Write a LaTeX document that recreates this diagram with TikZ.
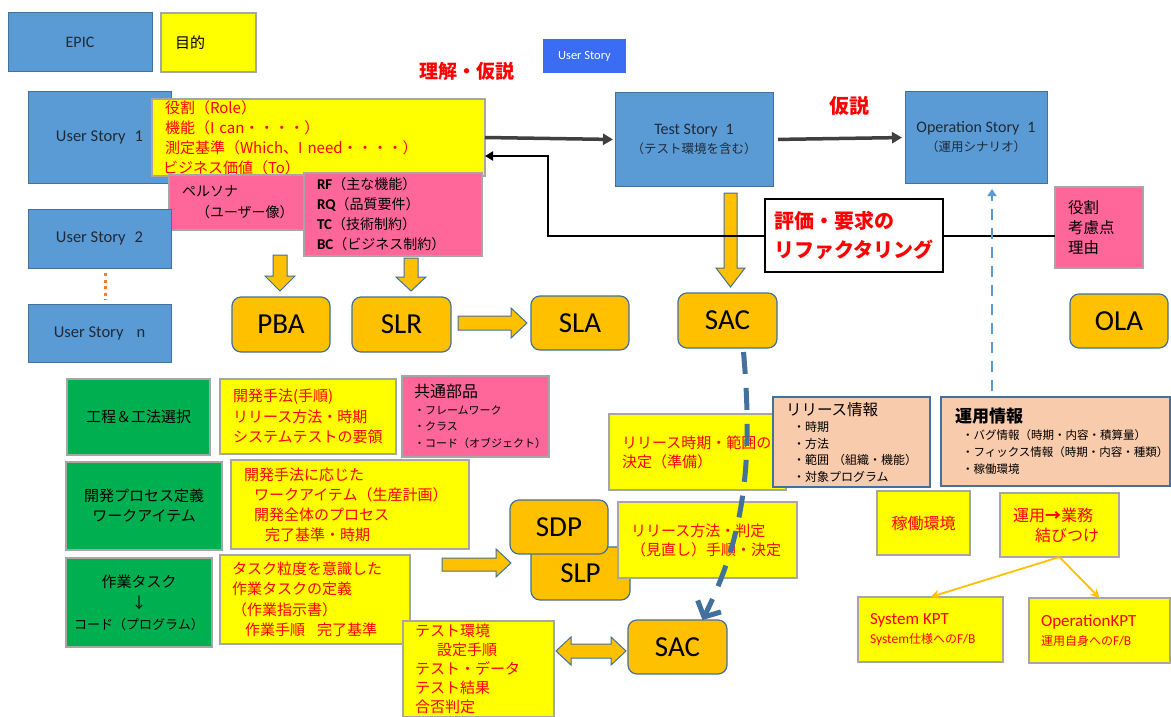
\documentclass[tikz,border=0pt]{standalone}
\usepackage{fontspec}
\setmainfont{Noto Sans CJK JP}
\newfontfamily\lat{Carlito}
\usetikzlibrary{arrows.meta}
\definecolor{bluef}{HTML}{5B9BD5}
\definecolor{blued}{HTML}{41719C}
\definecolor{ylw}{HTML}{FFFF00}
\definecolor{ygray}{HTML}{A6A6A6}
\definecolor{pnk}{HTML}{FF6699}
\definecolor{grn}{HTML}{00B050}
\definecolor{org}{HTML}{FFC000}
\definecolor{pch}{HTML}{F8CBAD}
\definecolor{rd}{HTML}{FF0000}
\definecolor{dgray}{HTML}{404040}
\definecolor{dotor}{HTML}{ED7D31}
\definecolor{usb}{HTML}{3A6CF4}
\definecolor{btxt}{HTML}{1F2A36}
\newcommand\fs[2]{\fontsize{#1}{#2}\selectfont}
\begin{document}
\begin{tikzpicture}[x=1pt,y=-1pt,
  every node/.style={inner sep=0pt, outer sep=0pt},
  box/.style 2 args={minimum width=#1pt, minimum height=#2pt},
  lt/.style 2 args={text width=#1pt, inner xsep=#2pt, align=left},
  bbox/.style={draw=blued, fill=bluef, line width=1pt, text=btxt},
  ybox/.style={draw=ygray, fill=ylw, line width=1.2pt},
  pbox/.style={draw=ygray, fill=pnk, line width=1.2pt},
  gbox/.style={draw=ygray, fill=grn, line width=1.2pt, align=center},
  obox/.style={draw=blued, fill=org, line width=1.2pt, rounded corners=9pt, font=\lat\fs{29}{31}},
  ebox/.style={draw=blued, fill=pch, line width=1.2pt},
  barrow/.style={draw=blued, fill=org, line width=1pt, line join=miter},
  garrow/.style={draw=dgray, line width=3.5pt, -{Triangle[length=10pt,width=11pt]}},
]
\clip (0,0) rectangle (1171,717);
\fill[white] (0,0) rectangle (1171,717);

% top row
\node[bbox, box={144}{59}, font=\lat\fs{16}{18}] (epic) at (80,42.5) {EPIC};
\node[ybox, box={95}{59}, lt={67}{14}, font=\fs{15}{17}] (goal) at (208.5,42.5) {目的};
\node[text=rd, font=\fs{19}{22}\bfseries] (rikai) at (467,71) {理解・仮説};
\node[fill=usb, box={83}{34}, text=white, font=\lat\fs{12.5}{14}] (usmall) at (584.5,56) {User Story};

% user stories
\node[bbox, box={143}{91}, font=\lat\fs{16.5}{18}] (us1) at (99.5,137.5) {User Story\hspace{9pt}1};
\node[ybox, box={333}{77}, lt={307}{13}, text=rd, font=\fs{15}{20}] (roles) at (318.5,137.5)
  {役割（Role）\\機能（I can・・・・）\\測定基準（Which、I need・・・・）\\\hspace*{-2pt}ビジネス価値（To）};
\node[pbox, box={141}{55}, lt={115}{13}, font=\fs{14}{21}] (persona) at (239.5,202.5)
  {ペルソナ\\\hspace*{14pt}（ユーザー像）};
\node[pbox, box={178}{83}, lt={152}{13}, font=\fs{14}{20}] (rf) at (393,214.5)
  {{\lat\bfseries\fs{15}{20}RF}（主な機能）\\{\lat\bfseries\fs{15}{20}RQ}（品質要件）\\{\lat\bfseries\fs{15}{20}TC}（技術制約）\\{\lat\bfseries\fs{15}{20}BC}（ビジネス制約）};
\node[bbox, box={143}{59}, font=\lat\fs{16.5}{18}] (us2) at (99.5,238.5) {User Story\hspace{9pt}2};
\node[bbox, box={143}{58}, font=\lat\fs{16.5}{18}] (usn) at (99.5,333) {User Story\hspace{13pt}n};
\draw[dotor, line width=3pt, dash pattern=on 3pt off 3.5pt, shorten <=5pt, shorten >=4pt]
  ([xshift=6pt]us2.south) -- ([xshift=6pt]usn.north);

% block arrows to PBA / SLR
\draw[barrow] (273,255) -- (287,255) -- (287,276) -- (295,276) -- (280,291) -- (265,276) -- (273,276) -- cycle;
\draw[barrow] (404,258) -- (418,258) -- (418,277) -- (426,277) -- (411,291) -- (396,277) -- (404,277) -- cycle;

\node[obox, box={98}{55}] (pba) at (281,324.5) {PBA};
\node[obox, box={99}{55}] (slr) at (401.5,324.5) {SLR};
\node[obox, box={98}{54}] (sla) at (580,323) {SLA};
\draw[barrow] (458,316) -- (511,316) -- (511,308) -- (527,323) -- (511,338) -- (511,330) -- (458,330) -- cycle;

% test / operation stories
\node[bbox, box={158}{93}, align=center, font=\fs{12.5}{19}] (ts) at (694,139.5)
  {{\lat\fs{16}{19}Test Story\hspace{8pt}1}\\（テスト環境を含む）};
\node[bbox, box={142}{91}, align=center, font=\fs{12.5}{19}] (os) at (976,137.5)
  {{\lat\fs{16}{19}Operation Story\hspace{8pt}1}\\（運用シナリオ）};
\node[text=rd, font=\fs{20}{22}\bfseries] (kasetsu) at (849,106) {仮説};
\draw[garrow, shorten >=2pt] (roles.east) -- (ts.west);
\draw[garrow, shorten <=5pt, shorten >=3pt] (ts.east) -- (os.west);

% feedback loop
\node[pbox, box={88}{81}, lt={62}{13}, font=\fs{15.5}{20}] (kouryo) at (1099,227.5) {役割\\考慮点\\理由};
\draw[barrow] (724,193) -- (737,193) -- (737,268) -- (745,268) -- (730.5,287) -- (716,268) -- (724,268) -- cycle;
\coordinate (bk) at (548,156);
\draw[line width=1.8pt, -{Triangle[length=8pt,width=9pt]}]
  ([yshift=-8.5pt]kouryo.west) -| (bk) -- ([yshift=-18.5pt]roles.east);
\node[draw=black, fill=white, line width=2pt, box={178}{73}, lt={160}{9}, text=rd, font=\fs{20}{29}\bfseries] (hyoka) at (854,235.5)
  {評価・要求の\\リファクタリング};

\node[obox, box={99}{55}] (sac1) at (727.5,320.5) {SAC};
\node[obox, box={98}{54}] (ola) at (1119,321) {OLA};

% process rows
\node[gbox, box={143}{76}, font=\fs{15}{18}] (g1) at (138.5,417) {工程＆工法選択};
\node[ybox, box={176}{75}, lt={150}{13}, text=rd, font=\fs{15}{20.5}] (k1) at (308,416.5)
  {開発手法(手順)\\リリース方法・時期\\システムテストの要領};
\node[pbox, box={147}{81}, lt={123}{12}, font=\fs{11}{16.5}] (kyotsu) at (475.5,416.5)
  {{\fs{16}{16.5}共通部品}\\・フレームワーク\\・クラス\\・コード（オブジェクト）};
\node[gbox, box={156}{88}, font=\fs{15}{20}] (g2) at (144,506) {開発プロセス定義\\ワークアイテム};
\node[ybox, box={238}{89}, lt={212}{13}, text=rd, font=\fs{15}{20}] (k2) at (350,504.5)
  {開発手法に応じた\\\hspace*{10pt}ワークアイテム（生産計画）\\\hspace*{10pt}開発全体のプロセス\\\hspace*{21pt}完了基準・時期};
\node[gbox, box={146}{89}, font=\fs{15}{21}] (g3) at (139,602.5) {作業タスク\\↓\\{\fs{13}{21}コード（プログラム）}};
\node[ybox, box={190}{89}, lt={166}{12}, text=rd, font=\fs{15}{20.5}] (task) at (315,599.5)
  {タスク粒度を意識した\\作業タスクの定義\\（作業指示書）\\\hspace*{13pt}作業手順\hspace{12pt}完了基準};

\draw[barrow] (442,558) -- (496,558) -- (496,549) -- (511,563) -- (496,577) -- (496,571) -- (442,571) -- cycle;
\node[obox, box={99}{53}] (slp) at (580.5,573.5) {SLP};
\node[obox, box={98}{54}] (sdp) at (559,527) {SDP};
\node[ybox, box={179}{76}, lt={153}{13}, text=rd, font=\fs{15}{19}] (relmeth) at (707.5,540)
  {リリース方法・判定\\（見直し）手順・決定};
\node[ybox, box={177}{76}, lt={151}{13}, text=rd, font=\fs{15}{19}] (reltime) at (697.5,452)
  {リリース時期・範囲の\\決定（準備）};
\node[ebox, box={157}{90}, lt={131}{13}, font=\fs{12}{16.5}] (relinfo) at (851.5,442)
  {{\fs{15.5}{18}リリース情報}\\\hspace*{7pt}・時期\\\hspace*{7pt}・方法\\\hspace*{7pt}・範囲 （組織・機能）\\\hspace*{7pt}・対象プログラム};
\node[ebox, box={229}{89}, lt={201}{14}, font=\fs{11.5}{17}] (unyo) at (1055.5,441.5)
  {{\fs{17}{17}\bfseries 運用情報}\\\hspace*{7pt}・バグ情報（時期・内容・積算量）\\\hspace*{7pt}・フィックス情報（時期・内容・種類）\\\hspace*{7pt}・稼働環境};
\draw[bluef, line width=2.5pt, dash pattern=on 11pt off 8pt, -{Triangle[length=7pt,width=9pt]}, shorten <=6pt, shorten >=6pt]
  ([xshift=-63.5pt]unyo.north) -- ([xshift=16pt]os.south);

\node[ybox, box={93}{64}, text=rd, font=\fs{16}{20}] (kado) at (923.5,523) {稼働環境};
\node[ybox, box={119}{64}, lt={93}{13}, text=rd, font=\fs{16}{20}] (unyo2) at (1059.5,525)
  {運用{\bfseries →}業務\\\hspace*{22pt}結びつけ};
\node[ybox, box={145}{65}, lt={121}{12}, text=rd, font=\fs{12}{19}] (skpt) at (930.5,629.5)
  {{\lat\fs{17}{19}System KPT}\\{\lat\fs{13.5}{19}System}仕様への{\lat\fs{13.5}{19}F/B}};
\node[ybox, box={141}{65}, lt={117}{12}, text=rd, font=\fs{12}{19}] (okpt) at (1099.5,630.5)
  {{\lat\fs{17}{19}OperationKPT}\\運用自身への{\lat\fs{13.5}{19}F/B}};
\draw[org, line width=1.8pt, -{Stealth[length=9pt,width=9pt]}] (unyo2.south) -- (skpt.north);
\draw[org, line width=1.8pt, -{Stealth[length=9pt,width=9pt]}] (unyo2.south) -- (okpt.north);

% test environment
\node[ybox, box={151}{96}, lt={127}{12}, text=rd, font=\fs{15}{19}] (testenv) at (478.5,669)
  {テスト環境\\\hspace*{22pt}設定手順\\テスト・データ\\テスト結果\\合否判定};
\draw[barrow] (556,651) -- (571,637) -- (571,644) -- (611,644) -- (611,637) -- (626,651) -- (611,665) -- (611,658) -- (571,658) -- (571,665) -- cycle;
\node[obox, box={99}{54}] (sac2) at (677.5,647) {SAC};

% dashed SAC -> SAC
\draw[blued, line width=5pt, dash pattern=on 22pt off 14pt, -{Straight Barb[length=12pt,width=26pt]}]
  ([xshift=16pt,yshift=-4pt]sac1.south) .. controls (754,470) and (742,540) .. ([xshift=25pt]sac2.north);
\end{tikzpicture}
\end{document}
